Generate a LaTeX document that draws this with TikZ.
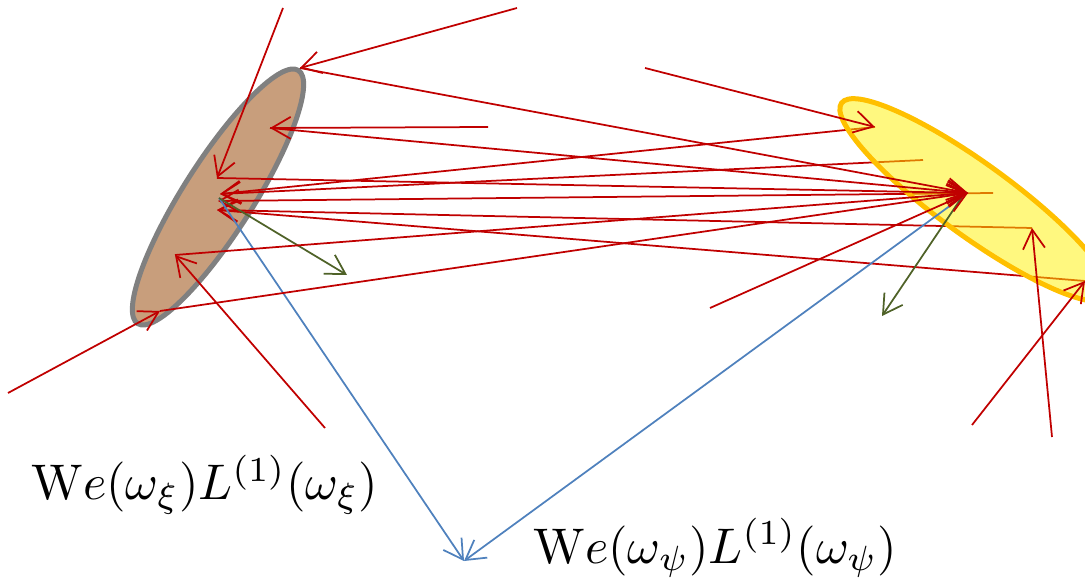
\documentclass[tikz,border=0pt]{standalone}
\usepackage{amsmath}
\usetikzlibrary{arrows.meta,shapes.geometric}

\definecolor{rayred}{RGB}{192,0,0}
\definecolor{normgreen}{RGB}{79,98,40}
\definecolor{linkblue}{RGB}{79,129,189}
\definecolor{xifill}{RGB}{200,158,124}
\definecolor{xiedge}{RGB}{128,128,128}
\definecolor{psiedge}{RGB}{255,192,0}

\begin{document}
\begin{tikzpicture}[x=0.02cm, y=-0.02cm,
    >={Straight Barb[length=3.8mm,width=4.4mm]},
    ray/.style={->, draw=rayred, line width=0.35mm},
    normal/.style={->, draw=normgreen, line width=0.35mm},
    link/.style={->, draw=linkblue, line width=0.35mm},
    patch/.style={ellipse, inner sep=0pt, line width=1mm}]
  \useasboundingbox (0,0) rectangle (1085,580);
  \clip (0,0) rectangle (1085,580);

  % Surface patch xi
  \node[patch, draw=xiedge, fill=xifill, minimum width=6cm,
        minimum height=1.4cm, rotate=57.6] (xi) at (218,197) {};

  % Points on xi
  \coordinate (xiA) at (300,68);
  \coordinate (xiB) at (270,128);
  \coordinate (xiC) at (217,178);
  \coordinate (xiD) at (220,194);
  \coordinate (xiE) at (218,201);
  \coordinate (xiF) at (217,210);
  \coordinate (xiG) at (175,255);
  \coordinate (xiH) at (160,311);
  \coordinate (xiO) at (219,198);

  % Points on psi
  \coordinate (psA) at (875,127);
  \coordinate (psB) at (923,160);
  \coordinate (psR) at (968,193);
  \coordinate (psC) at (993,193);
  \coordinate (psD) at (1032,228);
  \coordinate (psE) at (1085,281);
  \coordinate (psO) at (962,197);

  % Free ends
  \coordinate (inA) at (517,8);
  \coordinate (inB) at (488,127);
  \coordinate (inC) at (283,8);
  \coordinate (inG) at (325,428);
  \coordinate (inH) at (8,393);
  \coordinate (inP) at (645,68);
  \coordinate (inQ) at (710,308);
  \coordinate (inD) at (1052,437);
  \coordinate (inE) at (972,425);
  \coordinate (meet) at (464,561);
  \coordinate (nXi) at (347,275);
  \coordinate (nPsi) at (882,316);

  % Rays leaving psi (under the yellow patch)
  \draw[ray] (psA) -- (xiD);
  \draw[ray] (psB) -- (xiD);
  \draw[ray] (psC) -- (xiE);
  \draw[ray] (psD) -- (xiF);
  \draw[ray] (psE) -- (xiF);

  % Surface patch psi
  \node[patch, draw=psiedge, fill=yellow, fill opacity=0.5, draw opacity=1,
        minimum width=6.6cm, minimum height=1.45cm, rotate=-36] (psi) at (975,200) {};

  % Links and normals
  \draw[link] (xiO) -- (meet);
  \draw[link] (psO) -- (meet);
  \draw[normal] (xiO) -- (nXi);
  \draw[normal] (psO) -- (nPsi);

  % Incoming rays
  \draw[ray] (inA) -- (xiA);
  \draw[ray] (inB) -- (xiB);
  \draw[ray] (inC) -- (xiC);
  \draw[ray] (inG) -- (xiG);
  \draw[ray] (inH) -- (xiH);
  \draw[ray] (inP) -- (psA);
  \draw[ray] (inQ) -- (psR);
  \draw[ray] (inD) -- (psD);
  \draw[ray] (inE) -- (psE);

  % Rays leaving xi
  \draw[ray] (xiA) -- (psR);
  \draw[ray] (xiB) -- (psR);
  \draw[ray] (xiC) -- (psR);
  \draw[ray] (xiG) -- (psR);
  \draw[ray] (xiH) -- (psR);

  % Labels
  \node[anchor=base west, scale=2.85, inner sep=0pt] (labXi) at (30,500)
    {$\mathrm{W}e(\omega_\xi)L^{(1)}(\omega_\xi)$};
  \node[anchor=base west, scale=2.85, inner sep=0pt] (labPsi) at (532,563)
    {$\mathrm{W}e(\omega_\psi)L^{(1)}(\omega_\psi)$};
\end{tikzpicture}
\end{document}
